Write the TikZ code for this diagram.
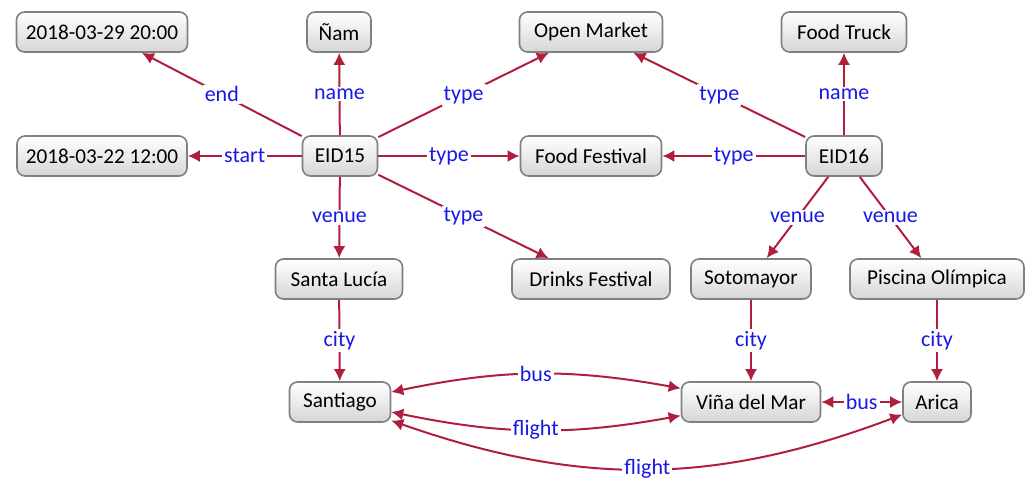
\documentclass[tikz,border=0pt]{standalone}
\usepackage{fontspec}
\setmainfont{Carlito}
\usetikzlibrary{arrows.meta}
\definecolor{edgec}{RGB}{176,30,62}
\definecolor{labc}{RGB}{25,25,230}
\definecolor{bordc}{RGB}{128,128,128}
\tikzset{
  ent/.style={draw=bordc, line width=0.8pt, rounded corners=4pt, top color=white, bottom color=black!16,
    minimum height=20pt, inner xsep=4pt, font=\fontsize{10.6}{13}\selectfont},
  rel/.style={draw=edgec, line width=1pt, -{Latex[length=6pt,width=6pt]}},
  birel/.style={draw=edgec, line width=1pt, {Latex[length=6pt,width=6pt]}-{Latex[length=6pt,width=6pt]}},
  lab/.style={fill=white, text=labc, inner sep=1pt, font=\fontsize{11}{13}\selectfont}
}
\begin{document}
\begin{tikzpicture}[x=0.5pt,y=-0.5pt]
\useasboundingbox (0,0) rectangle (1030,481);
% row 1
\node[ent, minimum width=85.5pt] (d1) at (102,32) {2018-03-29 20:00};
\node[ent, minimum width=32pt] (nam) at (339,32) {Ñam};
\node[ent, minimum width=71.5pt] (om) at (591,32) {Open Market};
\node[ent, minimum width=62.5pt] (ft) at (844,32) {Food Truck};
% row 2
\node[ent, minimum width=85pt] (d2) at (102,156) {2018-03-22 12:00};
\node[ent, minimum width=37.5pt] (e15) at (340,156) {EID15};
\node[ent, minimum width=70.5pt] (ff) at (591,156) {Food Festival};
\node[ent, minimum width=38pt] (e16) at (844,156) {EID16};
% row 3
\node[ent, minimum width=63.5pt] (sl) at (339,279) {Santa Lucía};
\node[ent, minimum width=79pt] (df) at (591,279) {Drinks Festival};
\node[ent, minimum width=60pt] (so) at (751,279) {Sotomayor};
\node[ent, minimum width=87pt] (po) at (937,279) {Piscina Olímpica};
% row 4
\node[ent, minimum width=50.5pt] (sa) at (340,402) {Santiago};
\node[ent, minimum width=69.5pt] (vm) at (751,402) {Viña del Mar};
\node[ent, minimum width=34pt] (ar) at (937,402) {Arica};
% edges EID15
\draw[rel] (e15) -- node[lab]{end} (d1);
\draw[rel] (e15) -- node[lab]{name} (nam);
\draw[rel] (e15) -- node[lab]{start} (d2);
\draw[rel] (e15) -- node[lab]{type} (om);
\draw[rel] (e15) -- node[lab]{type} (ff);
\draw[rel] (e15) -- node[lab]{type} (df);
\draw[rel] (e15) -- node[lab]{venue} (sl);
% edges EID16
\draw[rel] (e16) -- node[lab]{type} (om);
\draw[rel] (e16) -- node[lab]{type} (ff);
\draw[rel] (e16) -- node[lab]{name} (ft);
\draw[rel] (e16) -- node[lab]{venue} (so);
\draw[rel] (e16) -- node[lab]{venue} (po);
% city
\draw[rel] (sl) -- node[lab]{city} (sa);
\draw[rel] (so) -- node[lab]{city} (vm);
\draw[rel] (po) -- node[lab]{city} (ar);
% transport
\draw[birel] (sa) to[bend left=11] node[lab]{bus} (vm);
\draw[birel] (sa) to[bend right=11] node[lab]{flight} (vm);
\draw[birel] (vm) -- node[lab]{bus} (ar);
\draw[birel] (sa) to[bend right=20] node[lab]{flight} (ar);
\end{tikzpicture}
\end{document}
